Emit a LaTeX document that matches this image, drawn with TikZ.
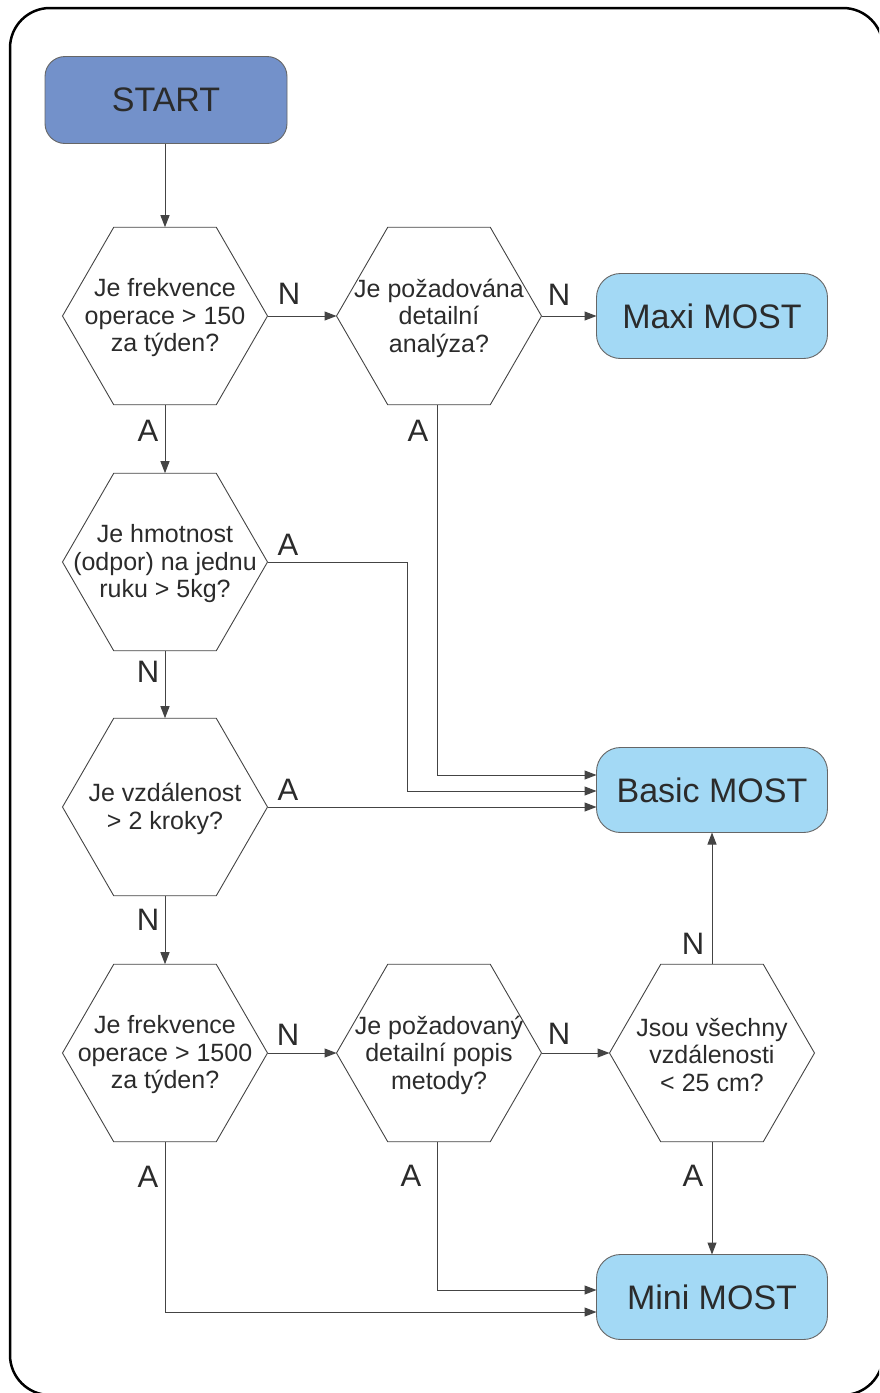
\documentclass[tikz,border=0pt]{standalone}
\usepackage{fontspec}
\setmainfont{Liberation Sans}
\usetikzlibrary{shapes.geometric,arrows.meta}
\definecolor{startblue}{HTML}{7391CA}
\definecolor{lightblue}{HTML}{A3D9F5}
\definecolor{txt}{HTML}{2B2B2B}
\definecolor{ln}{HTML}{444444}
\definecolor{bord}{HTML}{666666}
\begin{document}
\begin{tikzpicture}[x=1pt,y=-1pt,
 hexa/.style={regular polygon, regular polygon sides=6, minimum size=205pt, inner sep=0pt, outer sep=0pt, draw=ln, line width=0.9pt},
 qtext/.style={align=center, text=txt, font=\fontsize{25}{27.5}\selectfont, inner sep=0pt, yshift=-2pt},
 startbox/.style={rounded corners=20pt, draw=bord, line width=0.9pt, fill=startblue, minimum width=242pt, minimum height=87pt, text=txt, font=\fontsize{34}{40}\selectfont, outer sep=0pt, inner sep=0pt},
 endbox/.style={rounded corners=24pt, draw=bord, line width=0.9pt, fill=lightblue, minimum width=231pt, minimum height=85pt, text=txt, font=\fontsize{34}{40}\selectfont, outer sep=0pt, inner sep=0pt},
 lbl/.style={text=txt, font=\fontsize{31}{36}\selectfont, inner sep=0pt},
 conn/.style={draw=ln, line width=1pt, -{Triangle[length=12pt,width=9pt]}}
]
\useasboundingbox (0,0) rectangle (879,1393);
\clip (0,0) rectangle (879,1393);
\draw[line width=2.5pt, rounded corners=40pt] (10,8) rectangle (883,1395);

% terminals
\node[startbox] (start) at (166,100) {START};
\node[endbox] (maxi) at (712,316) {Maxi MOST};
\node[endbox] (basic) at (712,790) {Basic MOST};
\node[endbox] (mini) at (712,1297) {Mini MOST};

% decisions
\node[hexa] (h1) at (165,316) {};
\node[qtext] (h1t) at (h1) {Je frekvence\\operace > 150\\za týden?};
\node[hexa] (h2) at (439,316) {};
\node[qtext] (h2t) at (h2) {Je požadována\\detailní\\analýza?};
\node[hexa] (h3) at (165,562) {};
\node[qtext] (h3t) at (h3) {Je hmotnost\\(odpor) na jednu\\ruku > 5kg?};
\node[hexa] (h4) at (165,807) {};
\node[qtext] (h4t) at (h4) {Je vzdálenost\\> 2 kroky?};
\node[hexa] (h5) at (165,1053) {};
\node[qtext] (h5t) at (h5) {Je frekvence\\operace > 1500\\za týden?};
\node[hexa] (h6) at (439,1053) {};
\node[qtext] (h6t) at (h6) {Je požadovaný\\detailní popis\\metody?};
\node[hexa] (h7) at (712,1053) {};
\node[qtext] (h7t) at (h7) {Jsou všechny\\vzdálenosti\\< 25 cm?};

% connectors
\draw[conn] (start.south -| h1.north) -- (h1.north);
\draw[conn] (h1.east) -- (h2.west);
\draw[conn] (h2.east) -- (maxi.west);
\draw[conn] (h1.south) -- (h3.north);
\draw[conn] ([xshift=-2pt]h2.south) |- ([yshift=15pt]basic.west);
\coordinate (c3) at (407,562);
\draw[conn] (h3.east) -- (c3) |- ([yshift=-1pt]basic.west);
\draw[conn] (h3.south) -- (h4.north);
\draw[conn] (h4.east) -- (h4.east -| basic.west);
\draw[conn] (h4.south) -- (h5.north);
\draw[conn] (h5.east) -- (h6.west);
\draw[conn] (h6.east) -- (h7.west);
\draw[conn] (h7.north) -- (h7.north |- basic.south);
\draw[conn] (h7.south) -- (h7.south |- mini.north);
\draw[conn] ([xshift=-2pt]h6.south) |- ([yshift=7pt]mini.west);
\draw[conn] (h5.south) |- ([yshift=-15pt]mini.west);

% labels
\node[lbl] (l1n) at (289,294) {N};
\node[lbl] (l1a) at (148,431) {A};
\node[lbl] (l2n) at (559,295) {N};
\node[lbl] (l2a) at (418,431) {A};
\node[lbl] (l3a) at (288,545) {A};
\node[lbl] (l3n) at (148,672) {N};
\node[lbl] (l4a) at (288,790) {A};
\node[lbl] (l4n) at (148,920) {N};
\node[lbl] (l5n) at (288,1035) {N};
\node[lbl] (l5a) at (148,1177) {A};
\node[lbl] (l6n) at (559,1034) {N};
\node[lbl] (l6a) at (411,1176) {A};
\node[lbl] (l7n) at (693,944) {N};
\node[lbl] (l7a) at (693,1176) {A};
\end{tikzpicture}
\end{document}
